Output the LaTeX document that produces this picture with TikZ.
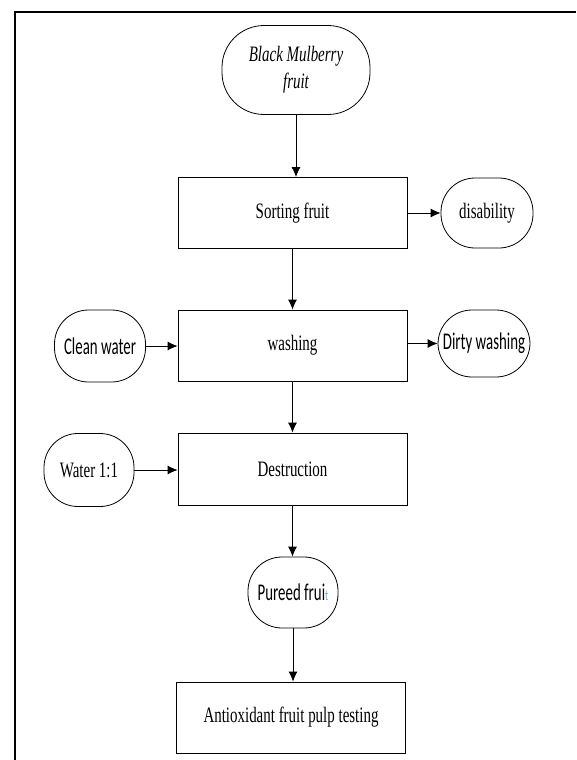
\documentclass[tikz,border=0pt]{standalone}
\usepackage{fontspec}
\setmainfont[FakeStretch=0.68]{Liberation Serif}
\newfontfamily\calfont[FakeStretch=0.62]{Carlito}
\usepackage{xcolor}
\usepackage{tikz}
\usetikzlibrary{arrows.meta}
\definecolor{tblue}{HTML}{6F9FD8}

\begin{document}
\begin{tikzpicture}[x=1pt,y=-1pt,
    proc/.style={draw, line width=0.8pt, minimum width=229pt, minimum height=71pt, inner sep=0pt,
                 font=\fontsize{22}{27}\selectfont},
    term/.style={draw, line width=0.8pt, rounded corners=34pt, inner sep=0pt, align=center,
                 font=\fontsize{22}{27}\selectfont},
    arr/.style={-{Latex[length=10pt,width=9pt]}, line width=0.8pt}]
             \useasboundingbox (0,0) rectangle (576,760);
             \draw[line width=2pt] (15,760) |- (576,12);

             % main column
             \node[term, rounded corners=42pt, minimum width=148pt, minimum height=89pt] (fruit) at (296,70)
                  {\itshape Black Mulberry\\\itshape fruit};
             \node[proc] (sorting) at (292.5,213) {Sorting fruit};
             \node[proc] (washing) at (292.5,345.5) {washing};
             \node[proc, minimum height=72pt] (destruction) at (292.5,469) {Destruction};
             \node[term, minimum width=90pt, minimum height=71pt, font=\calfont\fontsize{24}{27}\selectfont]
                  (pureed) at (293,592.5) {Pureed frui\textcolor{tblue}{\fontsize{15}{15}\selectfont t}};
             \node[proc] (testing) at (291,717.5) {Antioxidant fruit pulp testing};

             % side inputs and outputs
             \node[term, minimum width=92pt, minimum height=70pt] (disability) at (487,213) {disability};
             \node[term, minimum width=91pt, minimum height=72pt, font=\calfont\fontsize{24}{27}\selectfont]
                  (cleanwater) at (100,346) {Clean water};
             \node[term, minimum width=92pt, minimum height=67pt, font=\calfont\fontsize{24}{27}\selectfont]
                  (dirty) at (484,343.5) {Dirty washing};
             \node[term, minimum width=90pt, minimum height=73pt] (water) at (89,470) {Water 1:1};

             \draw[arr] (fruit.south) -- (fruit.south |- sorting.north);
             \draw[arr] (sorting.south) -- (washing.north);
             \draw[arr] (washing.south) -- (destruction.north);
             \draw[arr] (destruction.south) -- (destruction.south |- pureed.north);
             \draw[arr] (pureed.south) -- (pureed.south |- testing.north);

             \draw[arr] (sorting.east) -- (disability.west);
             \draw[arr] (washing.east |- dirty.west) -- (dirty.west);
             \draw[arr] (cleanwater.east) -- (cleanwater.east -| washing.west);
             \draw[arr] (water.east) -- (water.east -| destruction.west);
\end{tikzpicture}
\end{document}
